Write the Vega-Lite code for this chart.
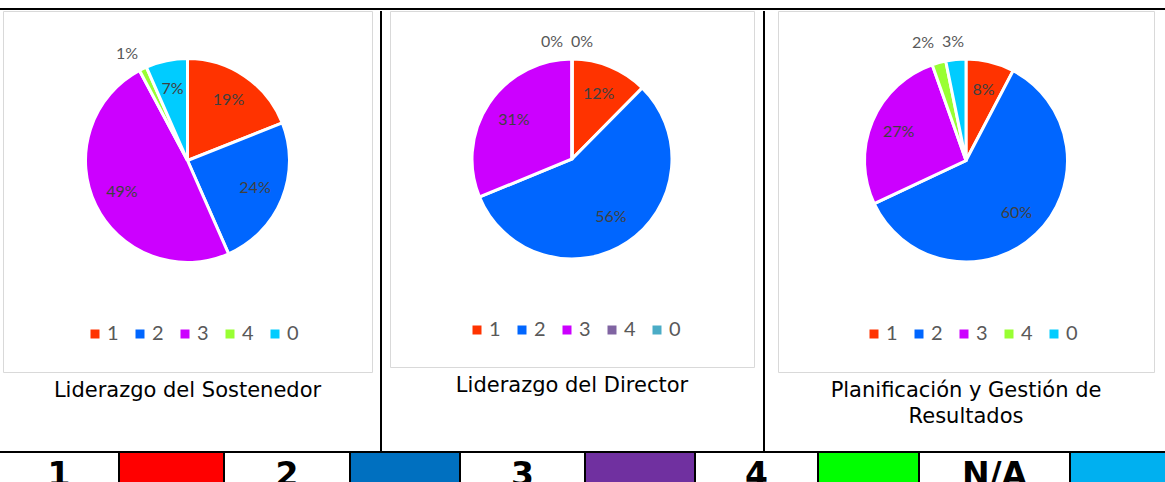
{
  "$schema": "https://vega.github.io/schema/vega-lite/v6.json",
  "background": "white",
  "padding": {"left": 0, "top": 8, "right": 0, "bottom": 0},
  "spacing": 0,
  "bounds": "full",
  "datasets": {
    "porciones": [
      {"grafico": "Liderazgo del Sostenedor", "nivel": "1", "orden": 1, "porcentaje": 0.190},
      {"grafico": "Liderazgo del Sostenedor", "nivel": "2", "orden": 2, "porcentaje": 0.244},
      {"grafico": "Liderazgo del Sostenedor", "nivel": "3", "orden": 3, "porcentaje": 0.488},
      {"grafico": "Liderazgo del Sostenedor", "nivel": "4", "orden": 4, "porcentaje": 0.012},
      {"grafico": "Liderazgo del Sostenedor", "nivel": "0", "orden": 5, "porcentaje": 0.066},
      {"grafico": "Liderazgo del Director", "nivel": "1", "orden": 1, "porcentaje": 0.124},
      {"grafico": "Liderazgo del Director", "nivel": "2", "orden": 2, "porcentaje": 0.564},
      {"grafico": "Liderazgo del Director", "nivel": "3", "orden": 3, "porcentaje": 0.312},
      {"grafico": "Liderazgo del Director", "nivel": "4", "orden": 4, "porcentaje": 0.0},
      {"grafico": "Liderazgo del Director", "nivel": "0", "orden": 5, "porcentaje": 0.0},
      {"grafico": "Planificación y Gestión de Resultados", "nivel": "1", "orden": 1, "porcentaje": 0.077},
      {"grafico": "Planificación y Gestión de Resultados", "nivel": "2", "orden": 2, "porcentaje": 0.603},
      {"grafico": "Planificación y Gestión de Resultados", "nivel": "3", "orden": 3, "porcentaje": 0.266},
      {"grafico": "Planificación y Gestión de Resultados", "nivel": "4", "orden": 4, "porcentaje": 0.022},
      {"grafico": "Planificación y Gestión de Resultados", "nivel": "0", "orden": 5, "porcentaje": 0.032}
    ],
    "niveles": [
      {"nivel": "1"}, {"nivel": "2"}, {"nivel": "3"}, {"nivel": "4"}, {"nivel": "N/A"}
    ],
    "vacio": [{}]
  },
  "resolve": {"scale": {"color": "independent", "theta": "independent"}, "legend": {"color": "independent"}},
  "vconcat": [
    {"width": 1165, "height": 2, "data": {"name": "vacio"}, "view": {"fill": "black"}, "mark": {"type": "rect", "color": "black"}, "encoding": {}},
    {
      "spacing": 0,
      "bounds": "flush",
      "resolve": {"scale": {"color": "independent", "theta": "independent"}, "legend": {"color": "independent"}},
      "hconcat": [
        {"width": 3, "height": 1, "data": {"name": "vacio"}, "mark": {"type": "rect", "opacity": 0}, "encoding": {}},
        {
          "width": 369, "height": 361,
          "view": {"stroke": "#d9d9d9", "strokeWidth": 1},
          "data": {"name": "porciones"},
          "transform": [{"filter": "datum.grafico == 'Liderazgo del Sostenedor'"}],
          "title": {"text": "Liderazgo del Sostenedor", "orient": "bottom", "offset": 25, "baseline": "alphabetic", "frame": "group", "anchor": "middle"},
          "encoding": {
            "theta": {"field": "porcentaje", "type": "quantitative", "stack": true},
            "order": {"field": "orden", "type": "quantitative"},
            "color": {"field": "nivel", "type": "nominal", "sort": null,
              "scale": {"domain": ["1", "2", "3", "4", "0"], "range": ["#FF3300", "#0066FF", "#CC00FF", "#99FF33", "#00CCFF"]},
              "legend": {"orient": "none", "legendX": 82, "legendY": 313, "direction": "horizontal"}}
          },
          "layer": [
            {"mark": {"type": "arc", "outerRadius": 102, "stroke": "white", "strokeWidth": 3, "yOffset": -31}},
            {"mark": {"type": "text", "radius": 73, "dy": -31, "font": "Lato", "fontSize": 16},
             "encoding": {"color": {"value": "#404040"}, "detail": {"field": "nivel"},
               "text": {"condition": {"test": "datum.porcentaje >= 0.05", "field": "porcentaje", "type": "quantitative", "format": ".0%"}, "value": ""}}},
            {"mark": {"type": "text", "radius": 120, "dx": -8, "dy": -30, "font": "Lato", "fontSize": 16},
             "encoding": {"color": {"value": "#595959"}, "detail": {"field": "nivel"},
               "text": {"condition": {"test": "datum.nivel == '4'", "field": "porcentaje", "type": "quantitative", "format": ".0%"}, "value": ""}}}
          ]
        },
        {"width": 8, "height": 1, "data": {"name": "vacio"}, "mark": {"type": "rect", "opacity": 0}, "encoding": {}},
        {"width": 2, "height": 440, "data": {"name": "vacio"}, "view": {"fill": "black"}, "mark": {"type": "rect", "color": "black"}, "encoding": {}},
        {"width": 8, "height": 1, "data": {"name": "vacio"}, "mark": {"type": "rect", "opacity": 0}, "encoding": {}},
        {
          "width": 364, "height": 356,
          "view": {"stroke": "#d9d9d9", "strokeWidth": 1},
          "data": {"name": "porciones"},
          "transform": [{"filter": "datum.grafico == 'Liderazgo del Director'"}],
          "title": {"text": "Liderazgo del Director", "orient": "bottom", "offset": 25, "baseline": "alphabetic", "frame": "group", "anchor": "middle"},
          "encoding": {
            "theta": {"field": "porcentaje", "type": "quantitative", "stack": true},
            "order": {"field": "orden", "type": "quantitative"},
            "color": {"field": "nivel", "type": "nominal", "sort": null,
              "scale": {"domain": ["1", "2", "3", "4", "0"], "range": ["#FF3300", "#0066FF", "#CC00FF", "#8064A2", "#4BACC6"]},
              "legend": {"orient": "none", "legendX": 77, "legendY": 309, "direction": "horizontal"}}
          },
          "layer": [
            {"mark": {"type": "arc", "outerRadius": 100, "stroke": "white", "strokeWidth": 3, "yOffset": -30}},
            {"mark": {"type": "text", "radius": 70, "dy": -30, "font": "Lato", "fontSize": 16},
             "encoding": {"color": {"value": "#404040"}, "detail": {"field": "nivel"},
               "text": {"condition": {"test": "datum.porcentaje >= 0.05", "field": "porcentaje", "type": "quantitative", "format": ".0%"}, "value": ""}}},
            {"mark": {"type": "text", "radius": 117, "dx": -20, "dy": -30, "font": "Lato", "fontSize": 16},
             "encoding": {"color": {"value": "#595959"}, "detail": {"field": "nivel"},
               "text": {"condition": {"test": "datum.nivel == '4'", "field": "porcentaje", "type": "quantitative", "format": ".0%"}, "value": ""}}},
            {"mark": {"type": "text", "radius": 117, "dx": 10, "dy": -30, "font": "Lato", "fontSize": 16},
             "encoding": {"color": {"value": "#595959"}, "detail": {"field": "nivel"},
               "text": {"condition": {"test": "datum.nivel == '0'", "field": "porcentaje", "type": "quantitative", "format": ".0%"}, "value": ""}}}
          ]
        },
        {"width": 9, "height": 1, "data": {"name": "vacio"}, "mark": {"type": "rect", "opacity": 0}, "encoding": {}},
        {"width": 2, "height": 440, "data": {"name": "vacio"}, "view": {"fill": "black"}, "mark": {"type": "rect", "color": "black"}, "encoding": {}},
        {"width": 13, "height": 1, "data": {"name": "vacio"}, "mark": {"type": "rect", "opacity": 0}, "encoding": {}},
        {
          "width": 376, "height": 361,
          "view": {"stroke": "#d9d9d9", "strokeWidth": 1},
          "data": {"name": "porciones"},
          "transform": [{"filter": "datum.grafico == 'Planificación y Gestión de Resultados'"}],
          "title": {"text": ["Planificación y Gestión de", "Resultados"], "orient": "bottom", "offset": 25, "baseline": "alphabetic", "frame": "group", "anchor": "middle"},
          "encoding": {
            "theta": {"field": "porcentaje", "type": "quantitative", "stack": true},
            "order": {"field": "orden", "type": "quantitative"},
            "color": {"field": "nivel", "type": "nominal", "sort": null,
              "scale": {"domain": ["1", "2", "3", "4", "0"], "range": ["#FF3300", "#0066FF", "#CC00FF", "#99FF33", "#00CCFF"]},
              "legend": {"orient": "none", "legendX": 86, "legendY": 313, "direction": "horizontal"}}
          },
          "layer": [
            {"mark": {"type": "arc", "outerRadius": 101.5, "stroke": "white", "strokeWidth": 3, "yOffset": -31}},
            {"mark": {"type": "text", "radius": 73, "dy": -31, "font": "Lato", "fontSize": 16},
             "encoding": {"color": {"value": "#404040"}, "detail": {"field": "nivel"},
               "text": {"condition": {"test": "datum.porcentaje >= 0.05", "field": "porcentaje", "type": "quantitative", "format": ".0%"}, "value": ""}}},
            {"mark": {"type": "text", "radius": 120, "dx": -11, "dy": -33, "font": "Lato", "fontSize": 16},
             "encoding": {"color": {"value": "#595959"}, "detail": {"field": "nivel"},
               "text": {"condition": {"test": "datum.nivel == '4'", "field": "porcentaje", "type": "quantitative", "format": ".0%"}, "value": ""}}},
            {"mark": {"type": "text", "radius": 120, "dx": -1, "dy": -30, "font": "Lato", "fontSize": 16},
             "encoding": {"color": {"value": "#595959"}, "detail": {"field": "nivel"},
               "text": {"condition": {"test": "datum.nivel == '0'", "field": "porcentaje", "type": "quantitative", "format": ".0%"}, "value": ""}}}
          ]
        },
        {"width": 11, "height": 1, "data": {"name": "vacio"}, "mark": {"type": "rect", "opacity": 0}, "encoding": {}}
      ]
    },
    {"width": 1165, "height": 2, "data": {"name": "vacio"}, "view": {"fill": "black"}, "mark": {"type": "rect", "color": "black"}, "encoding": {}},
    {
      "spacing": 0,
      "bounds": "flush",
      "hconcat": [
        {"width": 118, "height": 30, "data": {"name": "niveles"}, "transform": [{"filter": "datum.nivel == '1'"}], "mark": {"type": "text", "font": "DejaVu Sans", "fontWeight": "bold", "fontSize": 33, "baseline": "alphabetic", "dy": 18, "clip": true, "color": "black"}, "encoding": {"text": {"field": "nivel"}}},
        {"width": 2, "height": 30, "data": {"name": "vacio"}, "view": {"fill": "black"}, "mark": {"type": "rect", "color": "black"}, "encoding": {}},
        {"width": 103, "height": 30, "data": {"name": "niveles"}, "transform": [{"filter": "datum.nivel == '1'"}], "mark": {"type": "rect"}, "encoding": {"color": {"field": "nivel", "type": "nominal", "scale": {"domain": ["1", "2", "3", "4", "N/A"], "range": ["#FF0000", "#0070C0", "#7030A0", "#00FF00", "#00B0F0"]}, "legend": null}}},
        {"width": 2, "height": 30, "data": {"name": "vacio"}, "view": {"fill": "black"}, "mark": {"type": "rect", "color": "black"}, "encoding": {}},
        {"width": 124, "height": 30, "data": {"name": "niveles"}, "transform": [{"filter": "datum.nivel == '2'"}], "mark": {"type": "text", "font": "DejaVu Sans", "fontWeight": "bold", "fontSize": 33, "baseline": "alphabetic", "dy": 18, "clip": true, "color": "black"}, "encoding": {"text": {"field": "nivel"}}},
        {"width": 2, "height": 30, "data": {"name": "vacio"}, "view": {"fill": "black"}, "mark": {"type": "rect", "color": "black"}, "encoding": {}},
        {"width": 108, "height": 30, "data": {"name": "niveles"}, "transform": [{"filter": "datum.nivel == '2'"}], "mark": {"type": "rect"}, "encoding": {"color": {"field": "nivel", "type": "nominal", "scale": {"domain": ["1", "2", "3", "4", "N/A"], "range": ["#FF0000", "#0070C0", "#7030A0", "#00FF00", "#00B0F0"]}, "legend": null}}},
        {"width": 2, "height": 30, "data": {"name": "vacio"}, "view": {"fill": "black"}, "mark": {"type": "rect", "color": "black"}, "encoding": {}},
        {"width": 123, "height": 30, "data": {"name": "niveles"}, "transform": [{"filter": "datum.nivel == '3'"}], "mark": {"type": "text", "font": "DejaVu Sans", "fontWeight": "bold", "fontSize": 33, "baseline": "alphabetic", "dy": 18, "clip": true, "color": "black"}, "encoding": {"text": {"field": "nivel"}}},
        {"width": 2, "height": 30, "data": {"name": "vacio"}, "view": {"fill": "black"}, "mark": {"type": "rect", "color": "black"}, "encoding": {}},
        {"width": 108, "height": 30, "data": {"name": "niveles"}, "transform": [{"filter": "datum.nivel == '3'"}], "mark": {"type": "rect"}, "encoding": {"color": {"field": "nivel", "type": "nominal", "scale": {"domain": ["1", "2", "3", "4", "N/A"], "range": ["#FF0000", "#0070C0", "#7030A0", "#00FF00", "#00B0F0"]}, "legend": null}}},
        {"width": 2, "height": 30, "data": {"name": "vacio"}, "view": {"fill": "black"}, "mark": {"type": "rect", "color": "black"}, "encoding": {}},
        {"width": 121, "height": 30, "data": {"name": "niveles"}, "transform": [{"filter": "datum.nivel == '4'"}], "mark": {"type": "text", "font": "DejaVu Sans", "fontWeight": "bold", "fontSize": 33, "baseline": "alphabetic", "dy": 18, "clip": true, "color": "black"}, "encoding": {"text": {"field": "nivel"}}},
        {"width": 2, "height": 30, "data": {"name": "vacio"}, "view": {"fill": "black"}, "mark": {"type": "rect", "color": "black"}, "encoding": {}},
        {"width": 99, "height": 30, "data": {"name": "niveles"}, "transform": [{"filter": "datum.nivel == '4'"}], "mark": {"type": "rect"}, "encoding": {"color": {"field": "nivel", "type": "nominal", "scale": {"domain": ["1", "2", "3", "4", "N/A"], "range": ["#FF0000", "#0070C0", "#7030A0", "#00FF00", "#00B0F0"]}, "legend": null}}},
        {"width": 2, "height": 30, "data": {"name": "vacio"}, "view": {"fill": "black"}, "mark": {"type": "rect", "color": "black"}, "encoding": {}},
        {"width": 149, "height": 30, "data": {"name": "niveles"}, "transform": [{"filter": "datum.nivel == 'N/A'"}], "mark": {"type": "text", "font": "DejaVu Sans", "fontWeight": "bold", "fontSize": 33, "baseline": "alphabetic", "dy": 18, "clip": true, "color": "black"}, "encoding": {"text": {"field": "nivel"}}},
        {"width": 2, "height": 30, "data": {"name": "vacio"}, "view": {"fill": "black"}, "mark": {"type": "rect", "color": "black"}, "encoding": {}},
        {"width": 94, "height": 30, "data": {"name": "niveles"}, "transform": [{"filter": "datum.nivel == 'N/A'"}], "mark": {"type": "rect"}, "encoding": {"color": {"field": "nivel", "type": "nominal", "scale": {"domain": ["1", "2", "3", "4", "N/A"], "range": ["#FF0000", "#0070C0", "#7030A0", "#00FF00", "#00B0F0"]}, "legend": null}}}
      ]
    }
  ],
  "config": {
    "view": {"stroke": null},
    "concat": {"spacing": 0},
    "title": {"font": "DejaVu Sans", "fontSize": 21, "fontWeight": "normal", "color": "#000000", "lineHeight": 25.7},
    "legend": {
      "title": null,
      "symbolType": "square",
      "symbolSize": 81,
      "symbolStrokeWidth": 0,
      "labelFont": "Lato",
      "labelFontSize": 20,
      "labelColor": "#595959",
      "labelOffset": 2,
      "columnPadding": 11,
      "padding": 0
    }
  }
}
